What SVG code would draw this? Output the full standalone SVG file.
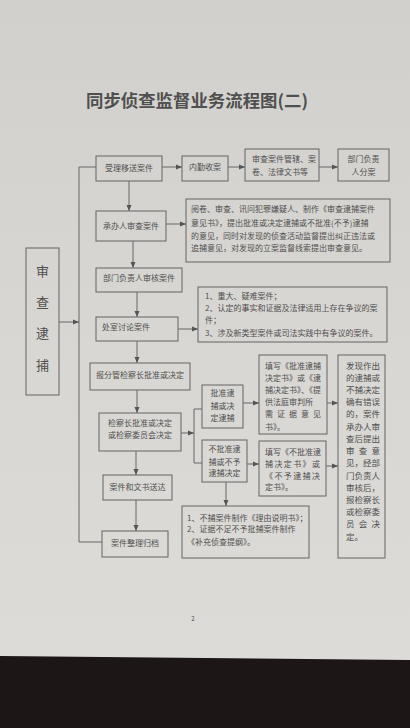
<svg xmlns="http://www.w3.org/2000/svg" width="410" height="728" viewBox="0 0 410 728">
<defs>
<linearGradient id="paper" x1="0" y1="0" x2="0" y2="1">
<stop offset="0" stop-color="#d2d0cc"/>
<stop offset="0.5" stop-color="#d9d7d3"/>
<stop offset="1" stop-color="#dedcd8"/>
</linearGradient>
<marker id="arr" markerWidth="6" markerHeight="6" refX="6" refY="3" orient="auto" markerUnits="userSpaceOnUse">
<path d="M0,0.5 L6,3 L0,5.5 z" fill="#555"/>
</marker>
<style>
.b{fill:none;stroke:#6e6e6e;stroke-width:1.1}
.c{fill:none;stroke:#666;stroke-width:1}
.a{marker-end:url(#arr)}
text{font-family:"Noto Sans CJK SC","Noto Sans",sans-serif;fill:#4f4f4f}
.t{font-size:8px}
.m{text-anchor:middle}
.r{font-size:8.5px}
</style>
</defs>
<rect x="0" y="0" width="410" height="728" fill="url(#paper)"/>
<polygon points="0,656 410,660 410,728 0,728" fill="#1c1716"/>
<text x="86" y="107" font-size="17" font-weight="700" fill="#5c5c5c" textLength="222" lengthAdjust="spacingAndGlyphs">同步侦查监督业务流程图(二)</text>

<g id="connectors">
<path class="c" d="M96,167 H79 V542 H102"/>
<path class="c a" d="M59,322 H79"/>
<path class="c a" d="M162,167 H182"/>
<path class="c a" d="M228,167 H245"/>
<path class="c a" d="M319,167 H338"/>
<path class="c a" d="M129,181 V211"/>
<path class="c a" d="M166,224 H186"/>
<path class="c a" d="M133,241 V268"/>
<path class="c a" d="M137,292 V317"/>
<path class="c a" d="M178,329 H198"/>
<path class="c a" d="M137,341 V363"/>
<path class="c a" d="M137,390 V413"/>
<path class="c a" d="M181,433 H194"/>
<path class="c" d="M202,409 H194 V463 H202"/>
<path class="c a" d="M243,403 H259"/>
<path class="c a" d="M327,403 H338"/>
<path class="c a" d="M247,464 H259"/>
<path class="c a" d="M326,466 H338"/>
<path class="c a" d="M226,482 V506"/>
<path class="c a" d="M136,451 V475"/>
<path class="c a" d="M136,500 V531"/>
</g>

<g id="n-scdb">
<rect class="b" x="26" y="248" width="33" height="147"/>
<text x="42.5" y="276" font-size="13" class="m">审</text>
<text x="42.5" y="307" font-size="13" class="m">查</text>
<text x="42.5" y="338" font-size="13" class="m">逮</text>
<text x="42.5" y="370" font-size="13" class="m">捕</text>
</g>

<g id="n-slys">
<rect class="b" x="96" y="156" width="66" height="25"/>
<text class="t m" x="129" y="171">受理移送案件</text>
</g>
<g id="n-nqsa">
<rect class="b" x="182" y="156" width="46" height="25"/>
<text class="t m" x="205" y="170">内勤收案</text>
</g>
<g id="n-scgx">
<rect class="b" x="245" y="149" width="74" height="32"/>
<text class="t" x="252" y="162">审查案件管辖、案</text>
<text class="t" x="252" y="175">卷、法律文书等</text>
</g>
<g id="n-bmfa">
<rect class="b" x="338" y="149" width="51" height="32"/>
<text class="t m" x="363.5" y="162">部门负责</text>
<text class="t m" x="363.5" y="175">人分案</text>
</g>

<g id="n-cbr">
<rect class="b" x="96" y="211" width="70" height="30"/>
<text class="t m" x="131" y="229">承办人审查案件</text>
</g>
<g id="n-cbr-note">
<rect class="b" x="186" y="199" width="204" height="63"/>
<text class="t" x="191" y="212">阅卷、审查、讯问犯罪嫌疑人、制作《审查逮捕案件</text>
<text class="t" x="191" y="226">意见书》，提出批准或决定逮捕或不批准(不予)逮捕</text>
<text class="t" x="191" y="239">的意见，同时对发现的侦查活动监督提出纠正违法或</text>
<text class="t" x="191" y="251">追捕意见，对发现的立案监督线索提出审查意见。</text>
</g>

<g id="n-bmsh">
<rect class="b" x="96" y="268" width="86" height="24"/>
<text class="t m" x="139" y="281">部门负责人审核案件</text>
</g>

<g id="n-csl">
<rect class="b" x="96" y="317" width="82" height="24"/>
<text class="t" x="102" y="330">处室讨论案件</text>
</g>
<g id="n-csl-note">
<rect class="b" x="198" y="287" width="189" height="55"/>
<text class="t" x="205" y="299">1、重大、疑难案件；</text>
<text class="t" x="205" y="311">2、认定的事实和证据及法律适用上存在争议的案</text>
<text class="t" x="205" y="323">件；</text>
<text class="t" x="205" y="336">3、涉及新类型案件或司法实践中有争议的案件。</text>
</g>

<g id="n-bfg">
<rect class="b" x="90" y="363" width="100" height="27"/>
<text class="t m" x="140" y="378">报分管检察长批准或决定</text>
</g>

<g id="n-jcz">
<rect class="b" x="99" y="413" width="82" height="38"/>
<text class="t m" x="140" y="426">检察长批准或决定</text>
<text class="t m" x="140" y="438">或检察委员会决定</text>
</g>

<g id="n-pz">
<rect class="b" x="202" y="385" width="41" height="43"/>
<text class="t m" x="222.5" y="396">批准逮</text>
<text class="t m" x="222.5" y="409">捕或决</text>
<text class="t m" x="222.5" y="421">定逮捕</text>
</g>
<g id="n-bpz">
<rect class="b" x="202" y="440" width="45" height="42"/>
<text class="t m" x="224.5" y="452">不批准逮</text>
<text class="t m" x="224.5" y="465">捕或不予</text>
<text class="t m" x="224.5" y="476">逮捕决定</text>
</g>

<g id="n-txpz">
<rect class="b" x="259" y="355" width="68" height="79"/>
<text class="t" x="265" y="369">填写《批准逮捕</text>
<text class="t" x="265" y="381">决定书》或《逮</text>
<text class="t" x="265" y="393">捕决定书》、《提</text>
<text class="t" x="265" y="405">供法庭审判所</text>
<text class="t" x="265" y="417" textLength="56" lengthAdjust="spacing">需证据意见</text>
<text class="t" x="265" y="430">书》。</text>
</g>
<g id="n-txbpz">
<rect class="b" x="259" y="441" width="67" height="55"/>
<text class="t" x="265" y="455">填写《不批准逮</text>
<text class="t" x="265" y="467" textLength="55" lengthAdjust="spacing">捕决定书》或</text>
<text class="t" x="265" y="479" textLength="55" lengthAdjust="spacing">《不予逮捕决</text>
<text class="t" x="265" y="490">定书》。</text>
</g>

<g id="n-bbsm">
<rect class="b" x="182" y="506" width="127" height="52"/>
<text class="t" x="187" y="521">1、不捕案件制作《理由说明书》；</text>
<text class="t" x="187" y="532">2、证据不足不予批捕案件制作</text>
<text class="t" x="187" y="545">《补充侦查提纲》。</text>
</g>

<g id="n-fx">
<rect class="b" x="338" y="355" width="47" height="203"/>
<text class="r" x="346" y="369">发现作出</text>
<text class="r" x="346" y="381">的逮捕或</text>
<text class="r" x="346" y="393">不捕决定</text>
<text class="r" x="346" y="405">确有错误</text>
<text class="r" x="346" y="417">的，案件</text>
<text class="r" x="346" y="430">承办人审</text>
<text class="r" x="346" y="442">查后提出</text>
<text class="r" x="346" y="454" textLength="34" lengthAdjust="spacing">审查意</text>
<text class="r" x="346" y="466">见，经部</text>
<text class="r" x="346" y="479">门负责人</text>
<text class="r" x="346" y="491">审核后，</text>
<text class="r" x="346" y="503">报检察长</text>
<text class="r" x="346" y="515">或检察委</text>
<text class="r" x="346" y="527" textLength="34" lengthAdjust="spacing">员会决</text>
<text class="r" x="346" y="540">定。</text>
</g>

<g id="n-ws">
<rect class="b" x="103" y="475" width="69" height="25"/>
<text class="t m" x="137.5" y="490">案件和文书送达</text>
</g>
<g id="n-gd">
<rect class="b" x="102" y="531" width="66" height="26"/>
<text class="t m" x="135" y="546">案件整理归档</text>
</g>

<text x="193" y="621" font-size="6" class="m">2</text>
</svg>
